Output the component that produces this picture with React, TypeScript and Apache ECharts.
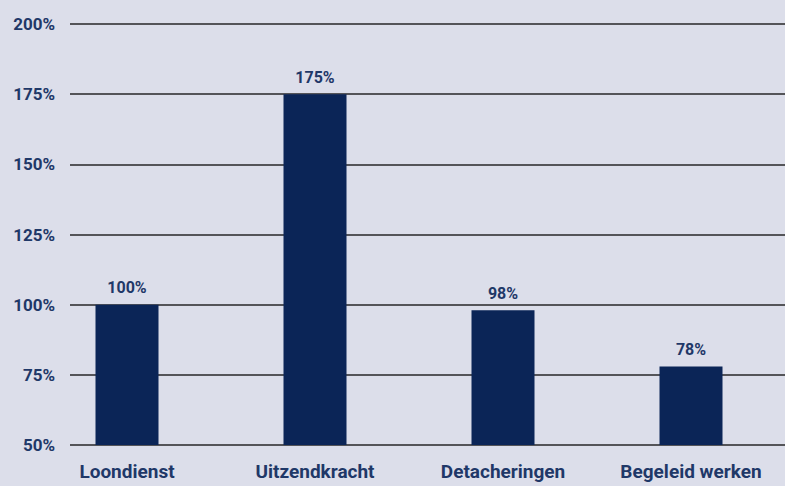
import React, { useEffect, useRef } from "react";
import * as echarts from "echarts";

const categories = ["Loondienst", "Uitzendkracht", "Detacheringen", "Begeleid werken"];
const values = [100, 175, 98, 78];
const yMin = 50;
const yMax = 200;
const yStep = 25;

export default function App() {
  const ref = useRef<HTMLDivElement>(null);
  useEffect(() => {
    if (!ref.current) return;
    const chart = echarts.init(ref.current, null, { renderer: "svg" });
    const navy = "#0b2557";
    const textColor = "#1f3868";
    const font = "Roboto";
    chart.setOption({
      animation: false,
      backgroundColor: "#dcdeea",
      grid: [
        { left: 70, right: 0, top: 24, bottom: 41, containLabel: false },
        { left: 33, width: 758, top: 24, bottom: 41, containLabel: false },
      ],
      xAxis: [
        {
          gridIndex: 0,
          type: "value",
          min: 0,
          max: 1,
          show: false,
        },
        {
          gridIndex: 1,
          type: "category",
          data: categories,
          axisLine: { show: false },
          axisTick: { show: false },
          axisLabel: {
            interval: 0,
            hideOverlap: false,
            color: textColor,
            fontFamily: font,
            fontWeight: "bold",
            fontSize: 19,
            margin: 17,
          },
        },
      ],
      yAxis: [
        {
          gridIndex: 0,
          type: "value",
          min: yMin,
          max: yMax,
          interval: yStep,
          axisLine: { show: false },
          axisTick: { show: false },
          axisLabel: {
            formatter: "{value}%",
            color: textColor,
            fontFamily: font,
            fontWeight: "bold",
            fontSize: 17,
            margin: 15,
          },
          splitLine: { lineStyle: { color: "#545458", width: 2 } },
        },
        {
          gridIndex: 1,
          type: "value",
          min: yMin,
          max: yMax,
          interval: yStep,
          show: false,
          splitLine: { show: false },
        },
      ],
      series: [
        {
          type: "bar",
          xAxisIndex: 1,
          yAxisIndex: 1,
          data: values,
          barWidth: 63,
          itemStyle: { color: navy },
          label: {
            show: true,
            position: "top",
            distance: 9,
            formatter: "{c}%",
            color: textColor,
            fontFamily: font,
            fontWeight: "bold",
            fontSize: 16,
          },
        },
      ],
    });
    return () => chart.dispose();
  }, []);
  return (
    <div
      ref={ref}
      style={{ position: "fixed", left: 0, top: 0, width: 785, height: 486 }}
    />
  );
}
